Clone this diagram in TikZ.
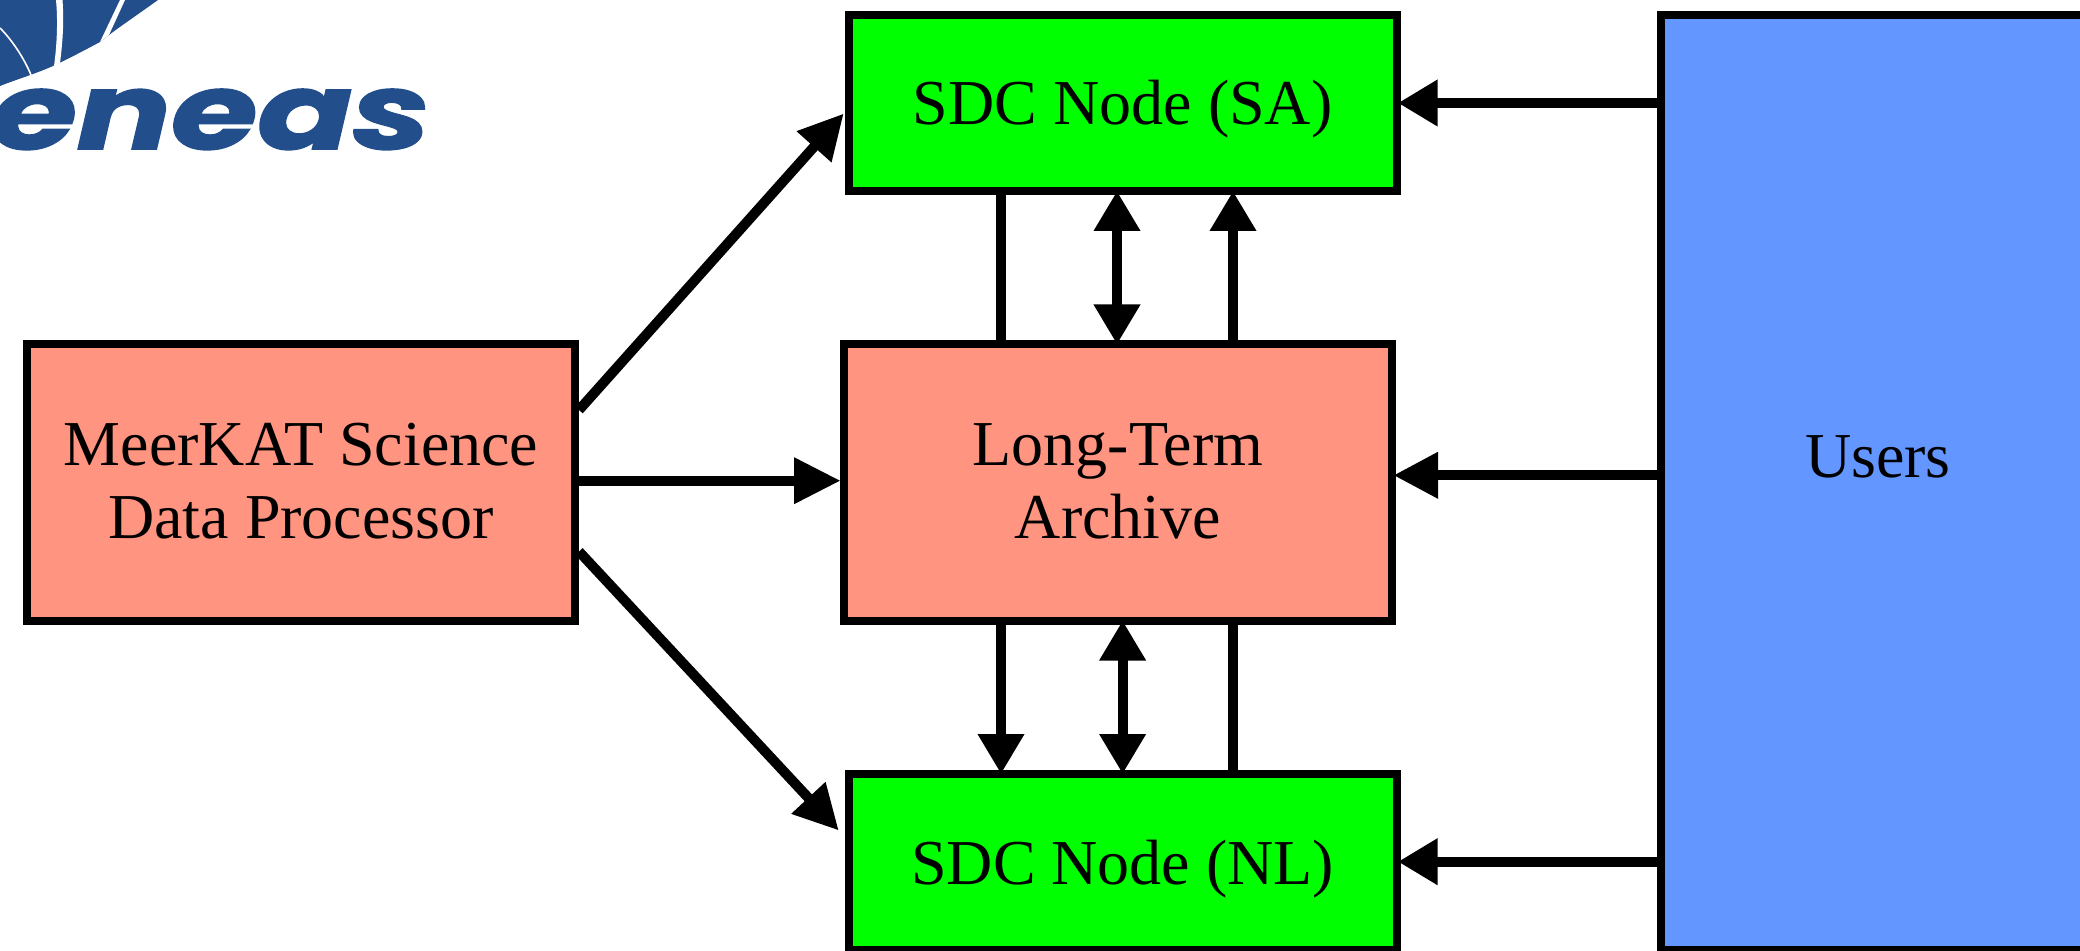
\documentclass[tikz,border=0pt]{standalone}
\usepackage{fontspec}
\setmainfont{Liberation Serif}
\newfontfamily\logofont[FakeBold=1.5]{Poppins}
\usetikzlibrary{arrows.meta}
\definecolor{boxred}{HTML}{FF9480}
\definecolor{boxgreen}{HTML}{00FF00}
\definecolor{boxblue}{HTML}{6397FF}
\definecolor{logoblue}{HTML}{224E8C}
\tikzset{
  every node/.style={font=\fontsize{32}{36}\selectfont},
  flowbox/.style={draw=black,line width=4pt,inner sep=0pt,align=center},
  single/.style={text height=33pt,text depth=11pt},
  conn/.style={line width=5pt},
  headA/.style={-{Triangle[length=#1,width=22pt]}},
  headB/.style={{Triangle[length=#1,width=22pt]}-{Triangle[length=#1,width=22pt]}}
}
\begin{document}
\begin{tikzpicture}[x=0.5pt,y=-0.5pt]
\clip (0,0) rectangle (2080,951);
% logo
\fill[logoblue] (0,0) -- (158,0) .. controls (130,20) and (118,28) .. (109,35) -- (100,42)
  .. controls (85,50) and (70,58) .. (53,66) .. controls (35,74) and (15,80) .. (0,86) -- cycle;
\fill[white] (120,0) -- (125,0) -- (109,35) -- (100,42) -- cycle;
\fill[white] (56,0) .. controls (58,20) and (57,45) .. (54,66) -- (60,63) .. controls (63,40) and (64,20) .. (62.5,0) -- cycle;
\draw[white,line width=0.8pt] (0,28) .. controls (12,40) and (24,58) .. (31,75);
\node[anchor=base east,inner sep=0pt,xscale=1.32,font=\logofont\bfseries\itshape\fontsize{53}{53}\selectfont,text=logoblue] (logo) at (431,149) {eneas};
% boxes
\node[flowbox,fill=boxgreen,single,minimum width=273.75pt,minimum height=88pt] (sa) at (1122.75,103) {SDC Node (SA)};
\node[flowbox,fill=boxred,minimum width=274pt,minimum height=138pt,text height=55.5pt,text depth=0pt] (arch) at (1118,482.5) {Long-Term\\Archive};
\node[flowbox,fill=boxgreen,single,minimum width=273.75pt,minimum height=88pt] (nl) at (1122.75,862) {SDC Node (NL)};
\node[flowbox,fill=boxred,minimum width=274pt,minimum height=138pt,text height=55.5pt,text depth=0pt] (meer) at (301,482.5) {MeerKAT Science\\Data Processor};
\node[flowbox,fill=boxblue,minimum width=217pt,minimum height=467.5pt,text height=11pt,text depth=15.5pt] (users) at (1878,482.5) {Users};
% rows and columns
\coordinate (rSA) at (0,103);
\coordinate (rA) at (0,475.3);
\coordinate (rNL) at (0,861.7);
\coordinate (rM) at (0,480.7);
\coordinate (cA) at (1001,0);
\coordinate (cB) at (1117,0);
\coordinate (cC) at (1233,0);
\coordinate (cD) at (1122.6,0);
\coordinate (upS) at (0,410);
\coordinate (upE) at (0,112.1);
\coordinate (loS) at (0,551.5);
\coordinate (loE) at (0,837.2);
% connectors
\draw[conn,headA=23.3pt,shorten >=-0.3pt] (meer.east |- rM) -- (arch.west |- rM);
\draw[conn,headA=22.3pt,shorten >=1pt] (meer.east |- upS) -- (sa.west |- upE);
\draw[conn,headA=22.3pt,shorten >=4.6pt] (meer.east |- loS) -- (nl.west |- loE);
\draw[conn,headA=19.8pt,shorten >=-1.3pt] (users.west |- rSA) -- (sa.east |- rSA);
\draw[conn,headA=22.3pt,shorten >=-1.3pt] (users.west |- rA) -- (arch.east |- rA);
\draw[conn,headA=19.8pt,shorten >=-1.3pt] (users.west |- rNL) -- (nl.east |- rNL);
\draw[conn] (cA |- sa.south) -- (cA |- arch.north);
\draw[conn,headB=20pt,shorten >=-2pt,shorten <=-2pt] (cB |- sa.south) -- (cB |- arch.north);
\draw[conn,headA=20pt,shorten >=-2pt] (cC |- arch.north) -- (cC |- sa.south);
\draw[conn,headA=20pt,shorten >=-2pt] (cA |- arch.south) -- (cA |- nl.north);
\draw[conn,headB=20pt,shorten >=-2pt,shorten <=-2pt] (cD |- arch.south) -- (cD |- nl.north);
\draw[conn] (cC |- arch.south) -- (cC |- nl.north);
\end{tikzpicture}
\end{document}
